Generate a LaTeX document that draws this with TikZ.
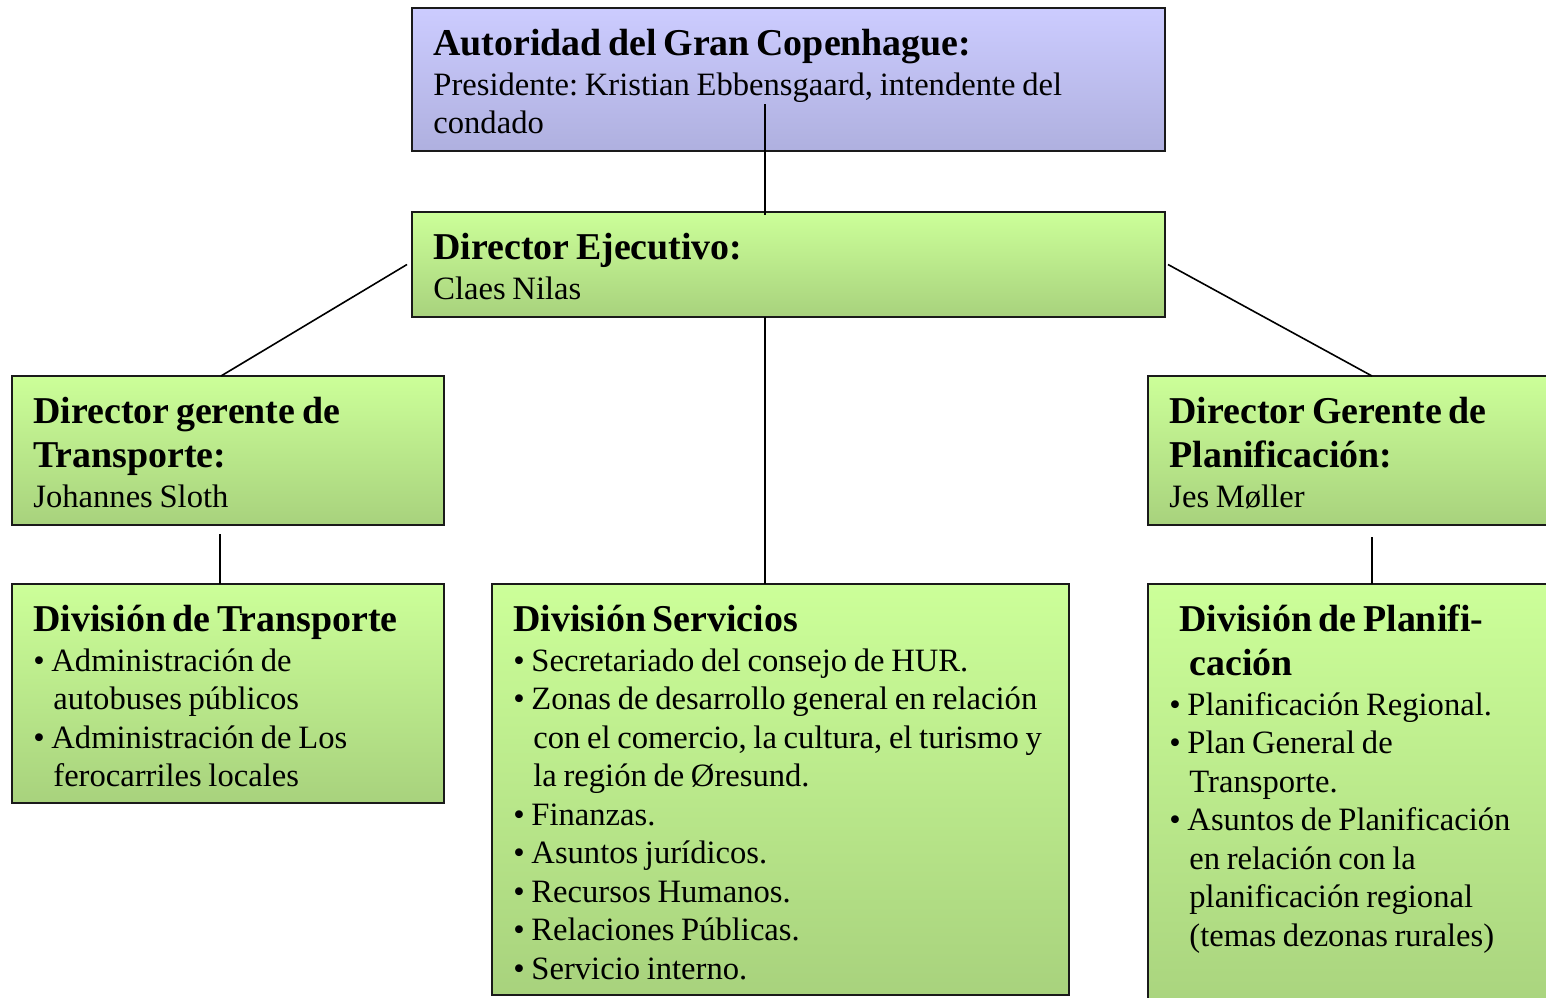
\documentclass[tikz,border=0pt]{standalone}
\usepackage{fontspec}
\setmainfont{Liberation Serif}
\usepackage{xcolor}
\usepackage{tikz}
\definecolor{LavenderTop}{HTML}{CCCCFF}
\definecolor{LavenderBottom}{HTML}{AFB0DF}
\definecolor{LimeTop}{HTML}{CCFF99}
\definecolor{LimeBottom}{HTML}{A8D27D}
\definecolor{FrameGrey}{HTML}{1A1A1A}
\setlength{\parindent}{0pt}
\frenchspacing
\newcommand{\headf}{\fontsize{18.95}{22}\selectfont\bfseries}
\newcommand{\bodyf}{\fontsize{16.3}{19.25}\selectfont\mdseries}
\newcommand{\bulitem}{\textbullet\ }
\newcommand{\bulind}{\hspace*{10pt}}
\tikzset{
  orgbox/.style={draw=FrameGrey, line width=1pt, anchor=north west,
                 inner sep=0pt, outer sep=0pt},
  bluebox/.style={orgbox, top color=LavenderTop, bottom color=LavenderBottom},
  greenbox/.style={orgbox, top color=LimeTop, bottom color=LimeBottom},
  boxtext/.style={anchor=base west, inner sep=0pt, text width=#1, align=left},
  boxtext/.default=200pt,
  link/.style={draw=black, line width=0.8pt}
}

\begin{document}
\begin{tikzpicture}[x=0.5pt, y=-0.5pt]
  \useasboundingbox (0,0) rectangle (1546,997);
  \clip (0,0) rectangle (1546,997);
  % boxes
  \node[bluebox, minimum width=376.5pt, minimum height=71.5pt] (auth) at (412,8) {};
  \node[greenbox, minimum width=376.5pt, minimum height=52.5pt] (exec) at (412,212) {};
  \node[greenbox, minimum width=216pt, minimum height=74.5pt] (dgt) at (12,376) {};
  \node[greenbox, minimum width=224pt, minimum height=74.5pt] (dgp) at (1148,376) {};
  \node[greenbox, minimum width=216pt, minimum height=109.5pt] (divt) at (12,584) {};
  \node[greenbox, minimum width=288.5pt, minimum height=205.5pt] (divs) at (492,584) {};
  \node[greenbox, minimum width=224pt, minimum height=220pt] (divp) at (1148,584) {};

  % connectors
  \coordinate (trunk) at (765,104);
  \draw[link] (trunk) -- ([yshift=-1.5pt]trunk |- exec.north);
  \draw[link] (exec.south -| trunk) -- (divs.north -| trunk);
  \draw[link] ([xshift=-2.5pt]exec.west) -- ([xshift=-3.5pt]dgt.north);
  \draw[link] ([xshift=1.5pt]exec.east) -- (dgp.north);
  \draw[link] ([shift={(-4pt,-4.5pt)}]dgt.south) -- ([xshift=-4pt]divt.north);
  \draw[link] ([yshift=-6pt]dgp.south) -- (divp.north);

  % texts
  \node[boxtext=370pt] (auth-txt) at (433,55) {\headf Autoridad del Gran Copenhague:\\[0.75pt]
    \bodyf Presidente: Kristian Ebbensgaard, intendente del\\ condado\par};
  \node[boxtext=360pt] (exec-txt) at (433,259) {\headf Director Ejecutivo:\\[0.75pt]
    \bodyf Claes Nilas\par};
  \node[boxtext=205pt] (dgt-txt) at (33,423) {\headf Director gerente de\\ Transporte:\\[0.75pt]
    \bodyf Johannes Sloth\par};
  \node[boxtext=205pt] (divt-txt) at (33,631) {\headf División de Transporte\\[0.75pt]
    \bodyf \bulitem Administración de\\ \bulind autobuses públicos\\
    \bulitem Administración de Los\\ \bulind ferocarriles locales\par};
  \node[boxtext=280pt] (divs-txt) at (513,631) {\headf División Servicios\\[0.75pt]
    \bodyf \bulitem Secretariado del consejo de HUR.\\
    \bulitem Zonas de desarrollo general en relación\\
    \bulind con el comercio, la cultura, el turismo y\\
    \bulind la región de Øresund.\\
    \bulitem Finanzas.\\
    \bulitem Asuntos jurídicos.\\
    \bulitem Recursos Humanos.\\
    \bulitem Relaciones Públicas.\\
    \bulitem Servicio interno.\par};
  \node[boxtext=205pt] (dgp-txt) at (1169,423) {\headf Director Gerente de\\ Planificación:\\[0.75pt]
    \bodyf Jes Møller\par};
  \node[boxtext=205pt] (divp-txt) at (1169,631) {\headf \hspace*{5pt}División de Planifi-\\
    \hspace*{10pt}cación\\[0.75pt]
    \bodyf \bulitem Planificación Regional.\\
    \bulitem Plan General de\\ \bulind Transporte.\\
    \bulitem Asuntos de Planificación\\ \bulind en relación con la\\
    \bulind planificación regional\\ \bulind (temas dezonas rurales)\par};
\end{tikzpicture}
\end{document}
